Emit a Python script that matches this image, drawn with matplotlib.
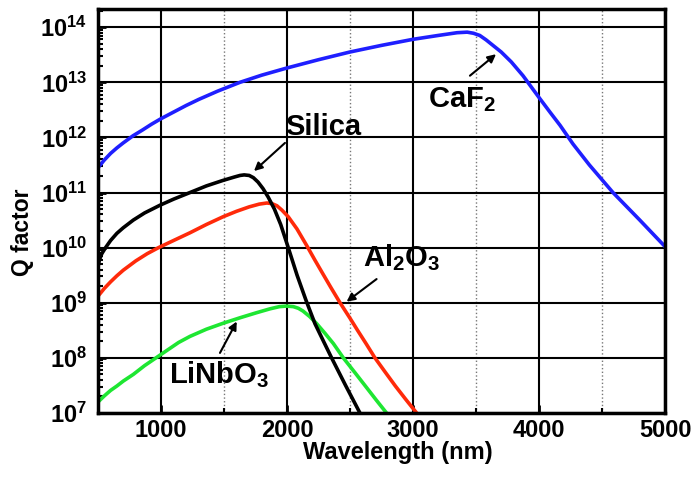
import numpy as np
import matplotlib
matplotlib.use("Agg")
import matplotlib.pyplot as plt
from matplotlib.ticker import FuncFormatter, NullFormatter, FixedLocator

plt.rcParams['font.family'] = ['Liberation Sans', 'DejaVu Sans']
plt.rcParams['font.weight'] = 'bold'
plt.rcParams['mathtext.fontset'] = 'custom'
plt.rcParams['mathtext.rm'] = 'Liberation Sans:bold'
plt.rcParams['mathtext.it'] = 'Liberation Sans:bold'
plt.rcParams['mathtext.bf'] = 'Liberation Sans:bold'

# wavelength (nm) and log10(Q)
caf2_wl = [500, 550, 600, 650, 700, 778, 850, 925, 1000, 1100, 1200, 1300, 1450, 1627, 1800,
           2000, 2250, 2500, 2750, 3000, 3200, 3350, 3430, 3480, 3530, 3580, 3640, 3700, 3780,
           3873, 3950, 4008, 4090, 4167, 4270, 4400, 4587, 4800, 5000]
caf2_logq = [11.45, 11.59, 11.71, 11.81, 11.9, 12.03, 12.13, 12.24, 12.34, 12.46, 12.58, 12.69,
             12.84, 13.0, 13.13, 13.26, 13.41, 13.55, 13.67, 13.78, 13.85, 13.9, 13.91, 13.89,
             13.85, 13.77, 13.66, 13.55, 13.37, 13.12, 12.88, 12.7, 12.45, 12.22, 11.88, 11.5,
             11.0, 10.5, 10.02]

silica_wl = [500, 510, 530, 560, 600, 650, 700, 780, 870, 992, 1100, 1230, 1360, 1492, 1580,
             1627, 1660, 1700, 1733, 1770, 1810, 1850, 1900, 1950, 2010, 2080, 2150, 2222,
             2290, 2354, 2465, 2579, 2610]
silica_logq = [9.65, 9.77, 9.89, 10.0, 10.13, 10.26, 10.36, 10.5, 10.63, 10.77, 10.88, 11.0,
               11.12, 11.22, 11.28, 11.31, 11.32, 11.31, 11.27, 11.19, 11.07, 10.92, 10.7,
               10.42, 10.0, 9.5, 9.05, 8.62, 8.3, 8.0, 7.5, 7.0, 6.86]

al2o3_wl = [500, 550, 600, 650, 700, 800, 890, 980, 1100, 1230, 1360, 1492, 1600, 1700, 1780,
            1840, 1880, 1920, 1960, 2010, 2079, 2156, 2220, 2286, 2350, 2421, 2500, 2560,
            2630, 2698, 2780, 2860, 2945, 3029, 3060]
al2o3_logq = [9.12, 9.26, 9.38, 9.49, 9.59, 9.76, 9.89, 10.0, 10.13, 10.27, 10.42, 10.56,
              10.66, 10.74, 10.79, 10.81, 10.8, 10.76, 10.68, 10.56, 10.34, 10.04, 9.78, 9.52,
              9.27, 9.0, 8.72, 8.5, 8.25, 8.0, 7.74, 7.49, 7.24, 7.0, 6.9]

linbo3_wl = [500, 550, 600, 650, 701, 780, 870, 960, 1050, 1140, 1230, 1360, 1495, 1630, 1759,
             1865, 1940, 1997, 2050, 2090, 2127, 2180, 2236, 2300, 2368, 2447, 2540, 2632,
             2710, 2790, 2820]
linbo3_logq = [7.2, 7.31, 7.41, 7.49, 7.58, 7.7, 7.86, 8.0, 8.14, 8.28, 8.39, 8.52, 8.63, 8.73,
               8.82, 8.89, 8.93, 8.94, 8.93, 8.9, 8.85, 8.75, 8.62, 8.45, 8.26, 8.0, 7.73,
               7.46, 7.23, 7.0, 6.9]

decades = list(range(7, 15))

fig = plt.figure(figsize=(6.93, 4.79), dpi=100)
ax = fig.add_axes([98/693, 1 - 413/479, (665 - 98)/693, (413 - 9)/479])

lw = 2.6
ax.plot(caf2_wl, 10**np.array(caf2_logq), color='#1f1fff', lw=lw)
ax.plot(al2o3_wl, 10**np.array(al2o3_logq), color='#ff2a0a', lw=lw)
ax.plot(linbo3_wl, 10**np.array(linbo3_logq), color='#1ee632', lw=lw)
ax.plot(silica_wl, 10**np.array(silica_logq), color='black', lw=lw)

ax.set_yscale('log')
ax.set_xlim(500, 5000)
ax.set_ylim(1e7, 10**14.33)

ax.xaxis.set_major_locator(FixedLocator([1000, 2000, 3000, 4000, 5000]))
ax.xaxis.set_minor_locator(FixedLocator([1500, 2500, 3500, 4500]))
ax.yaxis.set_major_locator(FixedLocator([10.0**k for k in decades]))
ax.yaxis.set_minor_locator(FixedLocator([m * 10.0**k for k in decades[:-1] for m in range(2, 10)]
                                        + [2e14]))
ax.yaxis.set_minor_formatter(NullFormatter())
ax.yaxis.set_major_formatter(FuncFormatter(lambda v, p: r'$10^{%d}$' % round(np.log10(v))))

ax.grid(which='major', color='black', lw=1.5, ls='-')
ax.grid(which='minor', axis='x', color='#777777', lw=1.0, ls=':')
ax.set_axisbelow(True)

ax.tick_params(which='major', direction='in', length=6, width=2, labelsize=17, pad=8)
ax.tick_params(axis='x', which='major', pad=4)
ax.tick_params(which='minor', direction='in', length=3.5, width=1.5)
for s in ax.spines.values():
    s.set_linewidth(2.5)

ax.set_xlabel('Wavelength (nm)', fontsize=17, fontweight='bold')
ax.set_ylabel('Q factor', fontsize=16.5, fontweight='bold')
ax.xaxis.set_label_coords(0.529, -0.069)
ax.yaxis.set_label_coords(-0.113, 0.448)

arrow = dict(arrowstyle='-|>', color='black', lw=1.5, mutation_scale=12, shrinkA=0, shrinkB=0)
ax.annotate('', xy=(1738, 10**11.39), xytext=(1984, 10**11.9), arrowprops=arrow)
ax.annotate('', xy=(3659, 10**13.51), xytext=(3452, 10**13.12), arrowprops=arrow)
ax.annotate('', xy=(2473, 10**9.02), xytext=(2711, 10**9.43), arrowprops=arrow)
ax.annotate('', xy=(1601, 10**8.66), xytext=(1468, 10**8.09), arrowprops=arrow)

tsize = 21
ax.text(1984, 10**12.05, 'Silica', fontsize=tsize, fontweight='bold', va='baseline', ha='left')
ax.text(3119, 10**12.55, r'CaF$_2$', fontsize=tsize, fontweight='bold', va='baseline', ha='left')
ax.text(2603, 10**9.67, r'Al$_2$O$_3$', fontsize=tsize, fontweight='bold', va='baseline', ha='left')
ax.text(1063, 10**7.54, r'LiNbO$_3$', fontsize=tsize, fontweight='bold', va='baseline', ha='left')

fig.savefig('out.png', dpi=100)
